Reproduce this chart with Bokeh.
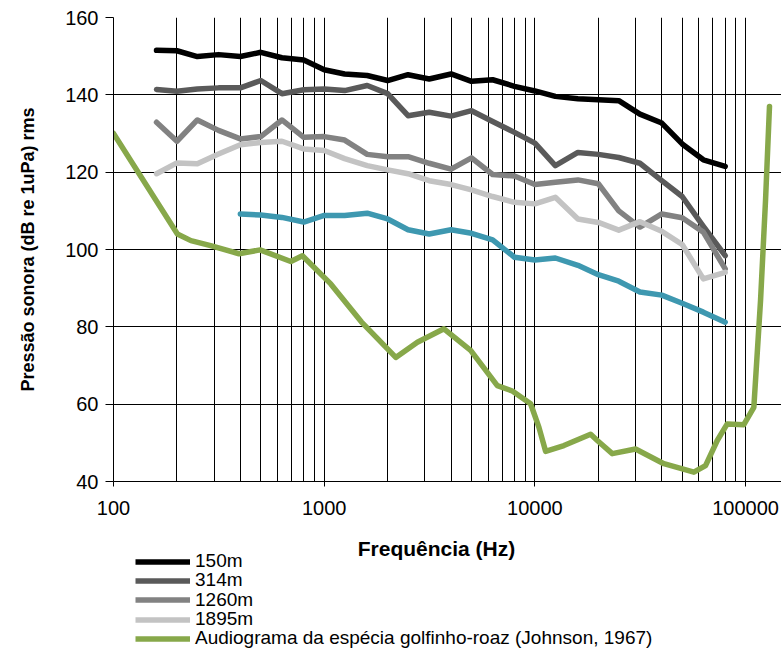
from bokeh.plotting import figure
from bokeh.layouts import column
from bokeh.models import (Range1d, FixedTicker, Legend, LegendItem, PrintfTickFormatter,
                          Label)
from bokeh.embed import file_html
from bokeh.resources import INLINE

# 1/3-octave frequencies (Hz)
freq = [160, 200, 250, 315, 400, 500, 630, 800, 1000, 1250, 1600, 2000, 2500, 3150,
        4000, 5000, 6300, 8000, 10000, 12500, 16000, 20000, 25000, 31500, 40000,
        50000, 63000, 80000]

spl_150 = [151.5, 151.4, 149.9, 150.4, 149.9, 151.0, 149.6, 149.0, 146.5, 145.4, 145.0,
           143.7, 145.2, 144.1, 145.4, 143.5, 143.9, 142.2, 141.0, 139.6, 139.0, 138.7,
           138.5, 135.0, 132.7, 127.3, 123.2, 121.5]
spl_314 = [141.4, 140.9, 141.5, 141.8, 141.8, 143.7, 140.3, 141.3, 141.5, 141.1, 142.4,
           140.3, 134.6, 135.5, 134.5, 135.9, 133.1, 130.3, 127.5, 121.7, 125.1, 124.6,
           123.8, 122.3, 117.8, 113.7, 106.0, 98.4]
spl_1260 = [132.9, 128.0, 133.5, 130.8, 128.6, 129.2, 133.5, 129.0, 129.2, 128.3, 124.6,
            124.0, 124.0, 122.3, 120.8, 123.7, 119.4, 119.0, 116.8, 117.4, 118.0, 117.0,
            110.0, 105.8, 109.2, 108.2, 104.5, 95.0]
spl_1895 = [119.6, 122.4, 122.2, 124.7, 127.1, 127.7, 128.0, 126.0, 125.6, 123.5, 121.7,
            120.6, 119.6, 117.8, 116.8, 115.4, 113.7, 112.2, 111.8, 113.5, 107.9, 107.0,
            105.0, 107.2, 104.7, 101.3, 92.4, 94.1]
freq_teal = freq[4:]
spl_teal = [109.2, 108.9, 108.3, 107.1, 108.8, 108.8, 109.4, 107.9, 105.1, 104.0, 105.1,
            104.2, 102.5, 98.0, 97.3, 97.8, 95.9, 93.5, 91.8, 89.0, 88.2, 86.1, 83.8, 81.2]

# Audiogram of the bottlenose dolphin (Johnson, 1967)
freq_aud = [100, 201, 233, 289, 394, 496, 694, 788, 1074, 1500, 2186, 2768, 3701, 4954,
            6630, 7812, 9541, 10450, 11240, 13730, 18380, 19770, 23290, 30040, 40930,
            56800, 64530, 73340, 81780, 98060, 109400, 117700, 124300, 129800]
spl_aud = [130.0, 104.0, 102.3, 101.0, 98.9, 99.9, 96.9, 98.4, 91.1, 81.3, 72.1, 76.0,
           79.5, 73.9, 64.8, 63.4, 60.1, 54.0, 47.8, 49.3, 52.2, 50.6, 47.2, 48.4, 44.6,
           42.4, 44.1, 50.6, 54.9, 54.7, 59.2, 86.8, 112.7, 137.0]

labels = ["150m", "314m", "1260m", "1895m",
          "Audiograma da espécia golfinho-roaz (Johnson, 1967)"]
colors = ["#000000", "#5a5a5a", "#828282", "#c3c3c3", "#87a84a"]
teal_color = "#3e98b0"
x_title = "Frequência (Hz)"
y_title = "Pressão sonora (dB re 1uPa) rms"

x_major_ticks = [100, 1000, 10000, 100000]
x_grid_ticks = [m * d for d in (100, 1000, 10000, 100000) for m in range(1, 10)]
y_ticks = [40, 60, 80, 100, 120, 140, 160]

FONT = "Liberation Sans"
W = 781
LEFT = 113
H1 = 529
H2 = 650 - H1

# ---------------- main chart ----------------
p = figure(width=W, height=H1, x_axis_type="log",
           x_range=Range1d(100, 148000), y_range=Range1d(40, 160),
           output_backend="svg", toolbar_location=None,
           min_border_left=LEFT, min_border_right=0, min_border_top=17,
           min_border_bottom=48)
p.outline_line_color = None

p.xgrid.ticker = FixedTicker(ticks=x_grid_ticks)
p.ygrid.ticker = FixedTicker(ticks=y_ticks)
for g in (p.xgrid, p.ygrid):
    g.grid_line_color = "#000000"
    g.grid_line_width = 1

p.xaxis.ticker = FixedTicker(ticks=x_major_ticks)
p.xaxis.formatter = PrintfTickFormatter(format="%d")
p.yaxis.ticker = FixedTicker(ticks=y_ticks)

for ax in (p.xaxis, p.yaxis):
    ax.axis_line_color = "#000000"
    ax.axis_line_width = 1
    ax.major_tick_line_color = "#000000"
    ax.major_tick_in = 0
    ax.minor_tick_line_color = None
    ax.major_label_text_font = FONT
    ax.major_label_text_font_size = "20px"
    ax.major_label_text_color = "#000000"
    ax.axis_label_text_font = FONT
    ax.axis_label_text_font_style = "bold"
    ax.axis_label_text_color = "#000000"

p.xaxis.major_tick_out = 5
p.xaxis.major_label_standoff = 14

p.yaxis.major_tick_out = 8
p.yaxis.major_label_standoff = 7
p.yaxis.axis_label = y_title
p.yaxis.axis_label_text_font_size = "18px"
p.yaxis.axis_label_standoff = 24

LW = 5.5
series = [(freq, spl_150), (freq, spl_314), (freq, spl_1260), (freq, spl_1895),
          (freq_aud, spl_aud)]
for (xs, ys), c in zip(series[:4], colors[:4]):
    p.line(xs, ys, line_color=c, line_width=LW, line_join="round", line_cap="round")
p.line(freq_teal, spl_teal, line_color=teal_color, line_width=LW,
       line_join="round", line_cap="round")
p.line(freq_aud, spl_aud, line_color=colors[4], line_width=LW,
       line_join="round", line_cap="round")

# ---------------- x title + legend (panel below the chart) ----------------
# x in page pixels; y runs from -H2 (bottom) to 0 (top), so the series data used
# for the legend swatches lies outside this panel's view.
p2 = figure(width=W, height=H2, x_range=Range1d(LEFT, W), y_range=Range1d(-H2, 0),
            output_backend="svg", toolbar_location=None, min_border=0,
            min_border_left=LEFT, x_axis_location=None, y_axis_location=None)
p2.outline_line_color = None
p2.grid.visible = False

p2.add_layout(Label(x=436, y=-19, text=x_title, text_align="center",
                    text_baseline="middle", text_font=FONT, text_font_size="21px",
                    text_font_style="bold", text_color="#000000"))

# one single-entry legend per row, so the row pitch matches the reference
row_centers = [559, 578, 597.5, 617, 636]   # page y of each legend row
ITEM_HALF = 13
for lab, (xs, ys), c, cy in zip(labels, series, colors, row_centers):
    r = p2.line(xs, ys, line_color=c, line_width=LW)
    lg = Legend(items=[LegendItem(label=lab, renderers=[r])],
                location=(135 - LEFT, 650 - cy - ITEM_HALF), orientation="vertical",
                glyph_width=55, glyph_height=19, label_height=19, label_standoff=5,
                spacing=0, padding=0, margin=0,
                label_text_font=FONT, label_text_font_size="19px",
                label_text_line_height=1.0, label_text_color="#000000",
                border_line_color=None, background_fill_alpha=0)
    p2.add_layout(lg, "center")

layout = column(p, p2, spacing=0)
open("out.html", "w").write(file_html(layout, INLINE))
